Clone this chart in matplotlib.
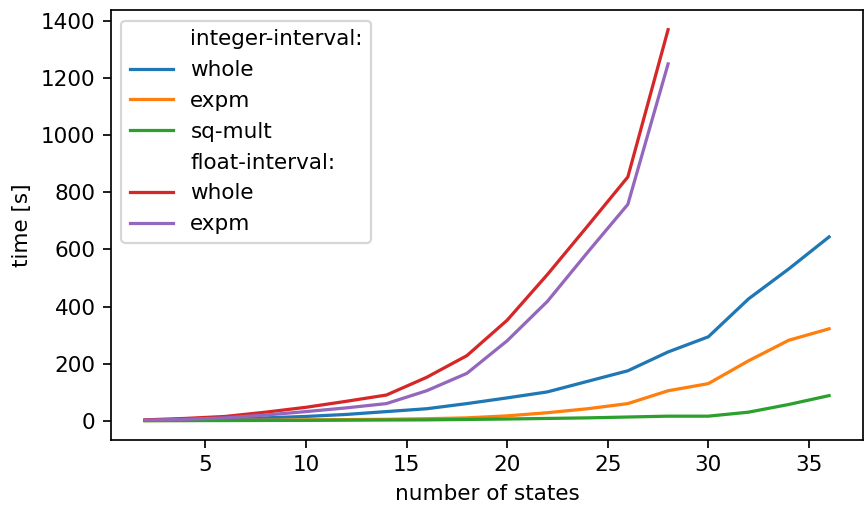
import numpy as np
import matplotlib.pyplot as plt

# number of states
states_int = [2, 4, 6, 8, 10, 12, 14, 16, 18, 20, 22, 24, 26, 28, 30, 32, 34, 36]
states_float = [2, 4, 6, 8, 10, 12, 14, 16, 18, 20, 22, 24, 26, 28]

# integer-interval timings [s]
int_whole = [1, 3, 5, 10, 15, 22, 32, 42, 60, 80, 101, 138, 175, 241, 294, 427, 532, 644]
int_expm = [0.5, 1, 1.5, 2, 3, 4, 5, 7, 10, 17, 28, 42, 60, 105, 130, 210, 282, 322]
int_sqmult = [0.2, 0.4, 0.6, 1, 1.3, 2, 2.5, 3, 4.5, 6, 8, 10, 13, 16, 16, 30, 57, 88]

# float-interval timings [s]
float_whole = [3, 8, 15, 30, 47, 68, 90, 152, 228, 352, 512, 682, 854, 1370]
float_expm = [2, 5, 10, 20, 32, 45, 60, 105, 166, 280, 418, 590, 758, 1250]

fig = plt.figure(figsize=(865 / 155, 506 / 155), dpi=155)
ax = fig.add_axes([0.128, 0.130, 0.870, 0.850])

ax.plot([], [], ' ', label='integer-interval:')
ax.plot(states_int, int_whole, color='tab:blue', label='whole')
ax.plot(states_int, int_expm, color='tab:orange', label='expm')
ax.plot(states_int, int_sqmult, color='tab:green', label='sq-mult')
ax.plot([], [], ' ', label='float-interval:')
ax.plot(states_float, float_whole, color='tab:red', label='whole')
ax.plot(states_float, float_expm, color='tab:purple', label='expm')

ax.set_xlabel("number of states")
ax.set_ylabel("time [s]")
ax.legend(loc='upper left')

fig.savefig("out.png", dpi=155)
